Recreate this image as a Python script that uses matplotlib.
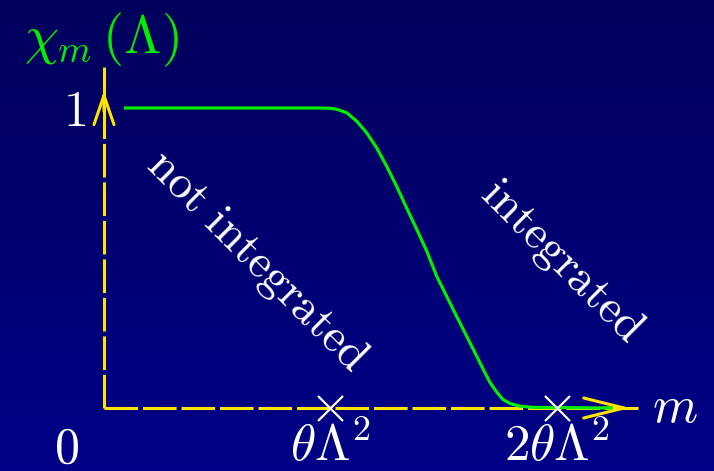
import numpy as np
import matplotlib
matplotlib.use('Agg')
import matplotlib.pyplot as plt

plt.rcParams['mathtext.fontset'] = 'cm'

# ── Data ───────────────────────────────────────────────────────────────────────
m_vals = [0.088, 0.954, 1.0, 1.027, 1.072, 1.116, 1.160, 1.204, 1.248, 1.292,
          1.336, 1.381, 1.425, 1.469, 1.542, 1.616, 1.675, 1.704, 1.735, 1.762,
          1.793, 1.837, 1.895, 2.247]
chi_vals = [1.0, 1.0, 0.999, 0.996, 0.984, 0.956, 0.917, 0.867, 0.806, 0.739,
            0.667, 0.595, 0.523, 0.439, 0.328, 0.217, 0.128, 0.085, 0.052, 0.028,
            0.015, 0.006, 0.002, 0.0]
tick_pos = [1, 2]
tick_labels = [r'$\theta\Lambda^2$', r'$2\theta\Lambda^2$']

YELLOW = '#FFE400'
GREEN = '#00EE00'

fig = plt.figure(figsize=(7.14, 4.71), dpi=100)
ax = fig.add_axes([0, 0, 1, 1])
XL, XR = -0.459, 2.693
YB, YT = -0.21, 1.36
ax.set_xlim(XL, XR)
ax.set_ylim(YB, YT)
ax.axis('off')

# background gradient, darker at the top
grad = np.linspace(0, 1, 256).reshape(-1, 1)
cols = np.zeros((256, 1, 3))
cols[..., 2] = 0.36 + 0.17 * grad
ax.imshow(cols, extent=[XL, XR, YB, YT], origin='upper', aspect='auto', zorder=0)

# axes: dashed yellow lines
dash = (0, (11, 1.6))
ax.plot([0, 0], [0, 1.137], color=YELLOW, lw=2.2, ls=dash, zorder=2)
ax.plot([0, 2.38], [0, 0], color=YELLOW, lw=2.2, ls=dash, zorder=2)
ax.annotate('', xy=(0, 1.067), xytext=(0, 0.98),
            arrowprops=dict(arrowstyle='->,head_length=1.05,head_width=0.36',
                            mutation_scale=20, color=YELLOW, lw=2.2), zorder=3)
ax.annotate('', xy=(2.336, 0), xytext=(2.2, 0),
            arrowprops=dict(arrowstyle='->,head_length=1.45,head_width=0.36',
                            mutation_scale=20, color=YELLOW, lw=2.2), zorder=3)

# curve
ax.plot(m_vals, chi_vals, color=GREEN, lw=2.3, solid_capstyle='butt',
        solid_joinstyle='round', zorder=4)

# tick crosses and labels
ax.plot(tick_pos, [0] * len(tick_pos), ls='none', marker='x', ms=18, mew=1.6,
        color='white', zorder=5)
for p, lab in zip(tick_pos, tick_labels):
    ax.text(p, -0.13, lab, color='white', fontsize=37, ha='center', va='center')

ax.text(-0.165, -0.135, r'$0$', color='white', fontsize=36, ha='center', va='center')
ax.text(-0.13, 0.985, r'$1$', color='white', fontsize=36, ha='center', va='center')
ax.text(2.42, 0.0, r'$m$', color='white', fontsize=37, ha='left', va='center')
ax.text(-0.355, 1.227, r'$\chi_m\,(\Lambda)$', color=GREEN, fontsize=39,
        ha='left', va='center')

ax.text(0.675, 0.49, r'$\mathrm{not\ integrated}$', color='white', fontsize=34,
        rotation=-45, ha='center', va='center', rotation_mode='anchor')
ax.text(2.02, 0.49, r'$\mathrm{integrated}$', color='white', fontsize=34,
        rotation=-45, ha='center', va='center', rotation_mode='anchor')

fig.savefig('out.png', dpi=100)
